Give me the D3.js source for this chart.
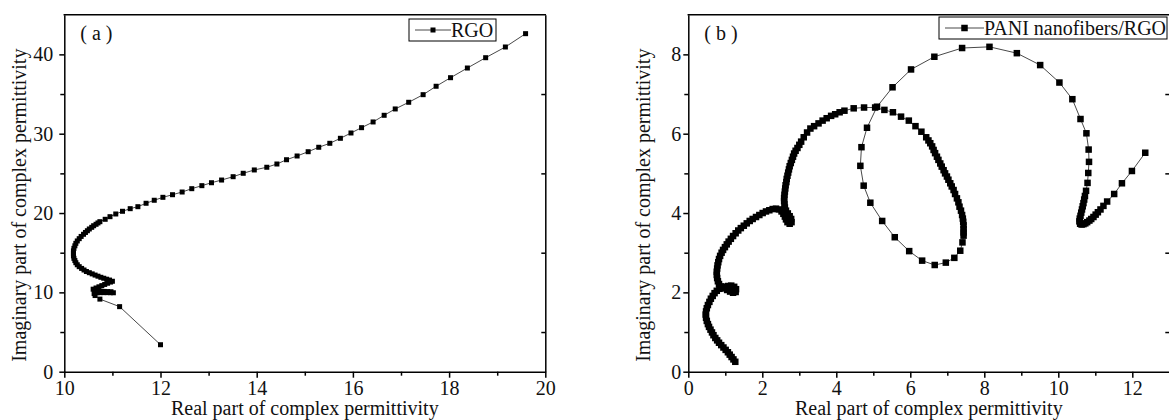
<!DOCTYPE html>
<html><head><meta charset="utf-8">
<script src="https://cdn.jsdelivr.net/npm/d3@7"></script>
<style>
body{margin:0;background:#fff}
svg{display:block}
svg text{font-family:"Liberation Serif","Times New Roman",serif !important;fill:#111}
</style>
</head><body><svg id="c" width="1169" height="420" font-family="Liberation Serif, serif"></svg>
<script>
// ---------- data (real part, imaginary part) ----------
const rgoData = [
[12.00,3.40],[11.15,8.20],[10.74,9.15],
[10.64,9.60],[10.62,9.85],[10.68,9.95],[10.75,9.97],[10.82,9.97],[10.89,9.97],[10.96,9.96],[11.02,9.95],
[10.97,10.08],[10.90,10.10],[10.83,10.12],[10.76,10.14],[10.69,10.18],[10.63,10.25],[10.60,10.40],
[10.66,10.55],[10.72,10.70],[10.78,10.85],[10.84,11.00],[10.90,11.15],[10.96,11.30],[11.00,11.40],
[10.94,11.55],[10.88,11.66],[10.82,11.78],[10.76,11.90],[10.70,12.04],[10.64,12.18],[10.58,12.33],
[10.52,12.48],[10.46,12.63],[10.41,12.82],[10.36,13.02],[10.31,13.24],[10.27,13.48],[10.24,13.74],
[10.22,14.01],[10.20,14.29],[10.19,14.60],[10.19,14.92],[10.19,15.23],[10.20,15.55],[10.22,15.87],
[10.24,16.18],[10.27,16.48],[10.31,16.77],[10.35,17.05],[10.40,17.32],[10.44,17.55],[10.48,17.77],
[10.52,17.99],[10.57,18.20],[10.61,18.40],[10.66,18.58],[10.70,18.75],[10.74,18.91],[10.85,19.21],
[10.95,19.54],[11.07,19.88],[11.21,20.22],[11.37,20.55],[11.53,20.80],[11.70,21.23],[11.87,21.61],
[12.05,21.98],[12.25,22.31],[12.45,22.65],[12.65,23.07],[12.86,23.45],[13.06,23.82],[13.27,24.16],
[13.51,24.58],[13.72,25.01],[13.95,25.43],[14.21,25.77],[14.42,26.18],[14.62,26.72],[14.84,27.19],
[15.07,27.73],[15.29,28.29],[15.52,28.79],[15.74,29.42],[15.96,30.09],[16.18,30.76],[16.42,31.48],
[16.65,32.32],[16.88,33.12],[17.16,33.96],[17.46,34.92],[17.73,35.98],[18.03,37.06],[18.38,38.28],
[18.76,39.58],[19.17,40.93],[19.59,42.61]
];
const paniData = [
[1.27,0.25],[1.22,0.31],[1.17,0.37],[1.12,0.43],[1.07,0.49],[1.01,0.55],[0.95,0.61],[0.89,0.67],
[0.83,0.73],[0.78,0.79],[0.73,0.85],[0.68,0.92],[0.64,0.99],[0.60,1.06],[0.56,1.13],[0.53,1.20],
[0.50,1.28],[0.48,1.36],[0.47,1.44],[0.48,1.52],[0.50,1.60],[0.53,1.68],[0.57,1.76],[0.61,1.84],
[0.66,1.91],[0.71,1.98],[0.77,2.04],[0.84,2.09],[0.92,2.12],[1.00,2.14],[1.08,2.16],[1.16,2.17],
[1.24,2.14],[1.29,2.08],[1.28,2.01],[1.21,1.99],[1.13,2.02],[1.05,2.06],[0.97,2.10],[0.89,2.15],
[0.83,2.21],[0.80,2.28],[0.78,2.36],[0.77,2.44],[0.77,2.52],[0.78,2.60],[0.79,2.68],[0.81,2.76],
[0.83,2.84],[0.86,2.92],[0.90,3.00],[0.94,3.07],[0.99,3.14],[1.04,3.21],[1.09,3.28],[1.15,3.35],
[1.21,3.42],[1.28,3.49],[1.35,3.56],[1.42,3.62],[1.50,3.68],[1.58,3.74],[1.66,3.80],[1.74,3.85],
[1.83,3.90],[1.92,3.95],[2.01,4.00],[2.10,4.04],[2.19,4.07],[2.28,4.10],[2.37,4.11],[2.45,4.09],
[2.52,4.04],[2.57,3.98],[2.61,3.91],[2.64,3.84],[2.68,3.77],[2.74,3.73],[2.79,3.77],[2.78,3.85],
[2.74,3.92],[2.69,3.99],[2.64,4.06],[2.61,4.14],[2.60,4.22],[2.59,4.30],[2.59,4.38],[2.60,4.46],
[2.61,4.54],[2.62,4.62],[2.63,4.70],[2.65,4.78],[2.66,4.86],[2.68,4.94],[2.70,5.02],[2.72,5.10],
[2.74,5.18],[2.77,5.26],[2.80,5.34],[2.83,5.42],[2.86,5.50],
[2.90,5.57],[2.95,5.64],[3.00,5.72],[3.05,5.80],[3.12,5.91],[3.21,6.03],[3.30,6.13],[3.40,6.19],
[3.52,6.26],[3.63,6.33],[3.74,6.39],[3.86,6.45],[3.97,6.49],[4.09,6.54],[4.22,6.58],[4.47,6.64],
[4.75,6.66],[5.05,6.66],[5.30,6.60],[5.53,6.54],[5.75,6.43],[5.96,6.33],[6.14,6.19],[6.30,6.05],
[6.43,5.91],[6.49,5.83],[6.54,5.76],[6.59,5.68],[6.63,5.59],[6.67,5.51],[6.72,5.42],[6.76,5.34],
[6.81,5.25],[6.85,5.17],[6.90,5.08],[6.94,5.00],[6.99,4.92],[7.03,4.84],[7.08,4.75],[7.12,4.67],
[7.17,4.58],[7.21,4.48],[7.26,4.37],[7.30,4.27],[7.33,4.16],[7.37,4.06],[7.40,3.95],[7.42,3.86],
[7.43,3.78],[7.44,3.69],[7.44,3.59],[7.44,3.51],[7.44,3.43],[7.41,3.26],[7.35,3.05],[7.19,2.87],
[6.96,2.75],[6.66,2.69],[6.32,2.80],[5.97,3.04],[5.58,3.39],[5.24,3.80],[4.92,4.26],[4.74,4.69],
[4.65,5.19],[4.68,5.66],[4.83,6.15],[5.10,6.68],[5.52,7.17],[6.02,7.62],[6.65,7.94],[7.40,8.16],
[8.14,8.19],[8.88,8.03],[9.51,7.73],[10.03,7.29],[10.38,6.87],[10.60,6.37],[10.76,6.01],[10.82,5.60],
[10.83,5.29],[10.81,5.01],[10.79,4.76],[10.75,4.56],[10.72,4.43],[10.70,4.34],[10.68,4.25],[10.66,4.17],
[10.64,4.09],[10.62,4.01],[10.60,3.93],[10.58,3.86],[10.57,3.79],[10.59,3.73],[10.63,3.71],[10.68,3.72],
[10.73,3.74],[10.78,3.77],[10.84,3.81],[10.89,3.85],[10.95,3.90],[11.01,3.96],[11.07,4.02],[11.14,4.09],
[11.22,4.18],[11.32,4.29],[11.51,4.48],[11.72,4.75],[11.99,5.06],[12.35,5.52]
];
const aXTicks = [10,12,14,16,18,20], aXMinor = [11,13,15,17,19];
const aYTicks = [0,10,20,30,40], aYMinor = [5,15,25,35];
const bXTicks = [0,2,4,6,8,10,12], bXMinor = [1,3,5,7,9,11];
const bYTicks = [0,2,4,6,8], bYMinor = [1,3,5,7];
const xTitle = "Real part of complex permittivity";
const yTitle = "Imaginary part of complex permittivity";
const FONT = "Liberation Serif, Times New Roman, serif";

const svg = d3.select("#c");

function panel(o){
  const g = svg.append("g");
  const x = d3.scaleLinear().domain(o.xd).range([o.l, o.r]);
  const y = d3.scaleLinear().domain(o.yd).range([o.b, o.t]);
  const axStyle = s => { s.attr("font-family",FONT).attr("font-size",20);
                         s.selectAll("path,line").attr("stroke","#000").attr("stroke-width",1.5);
                         s.selectAll("text").attr("font-family",FONT).attr("font-size",20).attr("fill","#111"); };
  // bottom axis
  g.append("g").attr("transform",`translate(0,${o.b})`)
    .call(d3.axisBottom(x).tickValues(o.xt).tickFormat(d3.format("d")).tickSize(6).tickSizeOuter(0).tickPadding(3))
    .call(axStyle);
  g.append("g").attr("transform",`translate(0,${o.b})`)
    .call(d3.axisBottom(x).tickValues(o.xm).tickFormat("").tickSize(4).tickSizeOuter(0))
    .call(axStyle).select(".domain").remove();
  // left axis
  g.append("g").attr("transform",`translate(${o.l},0)`)
    .call(d3.axisLeft(y).tickValues(o.yt).tickFormat(d3.format("d")).tickSize(5).tickSizeOuter(0).tickPadding(o.yPad))
    .call(axStyle);
  g.append("g").attr("transform",`translate(${o.l},0)`)
    .call(d3.axisLeft(y).tickValues(o.ym).tickFormat("").tickSize(4).tickSizeOuter(0))
    .call(axStyle).select(".domain").remove();
  // right axis (inward ticks at minor positions)
  g.append("g").attr("transform",`translate(${o.r},0)`)
    .call(d3.axisLeft(y).tickValues(o.ym).tickFormat("").tickSize(4).tickSizeOuter(0))
    .call(axStyle);
  // top spine
  g.append("line").attr("x1",o.l-0.75).attr("x2",o.r+0.75).attr("y1",o.t).attr("y2",o.t)
    .attr("stroke","#000").attr("stroke-width",1.5);

  // titles
  g.append("text").attr("x",(o.l+o.r)/2).attr("y",415).attr("text-anchor","middle")
    .attr("font-family",FONT).attr("font-size",20).text(xTitle);
  g.append("text").attr("transform",`translate(${o.ytx},${(o.t+o.b)/2+o.ytOff}) rotate(-90)`)
    .attr("text-anchor","middle").attr("font-family",FONT).attr("font-size",20).text(yTitle);
  g.append("text").attr("x",o.l+16).attr("y",40).attr("font-family",FONT).attr("font-size",20).text(o.label);

  // series
  const line = d3.line().x(d=>x(d[0])).y(d=>y(d[1]));
  g.append("path").datum(o.data).attr("d",line).attr("fill","none")
    .attr("stroke","#333").attr("stroke-width",0.9);
  g.selectAll("rect.m").data(o.data).join("rect").attr("class","m")
    .attr("x",d=>x(d[0])-o.ms/2).attr("y",d=>y(d[1])-o.ms/2)
    .attr("width",o.ms).attr("height",o.ms).attr("fill","#000");

  // legend
  const lg = o.leg;
  g.append("rect").attr("x",lg.x).attr("y",lg.y).attr("width",lg.w).attr("height",lg.h)
    .attr("fill","#fff").attr("stroke","#000").attr("stroke-width",1);
  const cy = lg.y + lg.h/2;
  g.append("line").attr("x1",lg.x+6).attr("x2",lg.x+6+lg.lw).attr("y1",cy).attr("y2",cy)
    .attr("stroke","#333").attr("stroke-width",0.9);
  g.append("rect").attr("x",lg.x+6+lg.lw/2-o.ms/2).attr("y",cy-o.ms/2).attr("width",o.ms).attr("height",o.ms).attr("fill","#000");
  g.append("text").attr("x",lg.x+6+lg.lw).attr("y",cy+7).attr("font-family",FONT).attr("font-size",20).text(lg.text);
}

panel({xd:[10,20], yd:[0,45], l:64.3, r:545.3, t:14.7, b:371.7,
  xt:aXTicks, xm:aXMinor, yt:aYTicks, ym:aYMinor, yPad:6,
  ytx:26, ytOff:12, label:"( a )", data:rgoData, ms:5,
  leg:{x:409, y:19, w:87, h:22, lw:36, text:"RGO"}});

panel({xd:[0,13], yd:[0,9], l:688.3, r:1169.3, t:14.7, b:371.7,
  xt:bXTicks, xm:bXMinor, yt:bYTicks, ym:bYMinor, yPad:2,
  ytx:650, ytOff:12, label:"( b )", data:paniData, ms:6.5,
  leg:{x:939, y:17, w:228, h:22, lw:39, text:"PANI nanofibers/RGO"}});
</script>
</body></html>
